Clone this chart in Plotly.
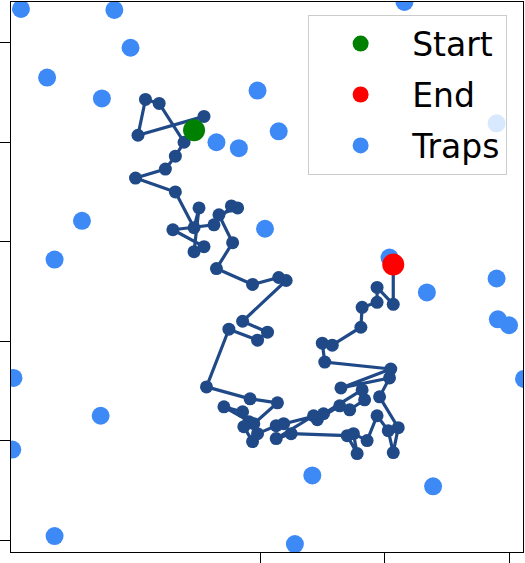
import plotly.graph_objects as go

# Trap positions
trap_x = [0.08, 0.83, 0.96, 0.29, 0.73, 1.98, 1.65, 1.83, 2.15, 3.16, 3.90, 0.57, 0.35, 2.04,
          3.04, 3.90, 3.34, 3.91, 4.00, 4.12, 0.02, 0.72, 0.01, 0.35, 2.42, 3.39, 2.28]
trap_y = [5.34, 5.33, 4.95, 4.65, 4.44, 4.52, 4.00, 3.94, 4.11, 5.41, 4.19, 3.21, 2.82, 3.13,
          2.84, 2.63, 2.49, 2.22, 2.16, 1.62, 1.63, 1.25, 0.91, 0.04, 0.65, 0.54, -0.04]

# Random-walk path
walk_x = [1.47, 1.55, 1.02, 1.08, 1.19, 1.39, 1.32, 1.24, 1.00, 1.32,
          1.47, 1.51, 1.47, 1.55, 1.30, 1.63, 1.77, 1.82, 1.67, 1.78,
          1.65, 1.94, 2.15, 2.21, 1.86, 2.06, 1.98, 1.75, 1.57, 1.92,
          2.14, 1.95, 1.71, 1.86, 1.91, 1.87, 1.94, 1.98, 2.13, 2.19,
          2.51, 2.82, 2.84, 2.72, 2.64, 2.46, 2.43, 2.13, 2.25, 2.70,
          2.78, 2.75, 2.86, 2.94, 3.03, 3.07, 3.11, 2.96, 3.04, 2.65,
          3.05, 2.52, 2.50, 2.58, 2.81, 2.82, 2.94, 2.94, 3.07, 3.07]
walk_y = [4.12, 4.26, 4.07, 4.43, 4.39, 4.00, 3.86, 3.73, 3.64, 3.50,
          3.14, 3.34, 2.90, 2.95, 3.12, 3.17, 3.36, 3.34, 3.27, 2.99,
          2.73, 2.57, 2.64, 2.61, 2.20, 2.09, 2.01, 2.12, 1.54, 1.42,
          1.38, 1.17, 1.34, 1.29, 1.19, 1.14, 0.99, 1.07, 1.15, 1.17,
          1.27, 1.51, 1.41, 1.31, 1.35, 1.21, 1.25, 1.02, 1.07, 1.05,
          0.87, 1.07, 1.00, 1.25, 1.10, 0.88, 1.13, 1.44, 1.63, 1.53,
          1.72, 1.79, 1.98, 1.96, 2.14, 2.34, 2.39, 2.54, 2.37, 2.77]

x_ticks = [2, 3, 4]
y_ticks = [0, 1, 2, 3, 4, 5]

TRAP = "#3d8af7"
WALK = "#204a87"

fig = go.Figure()
fig.add_trace(go.Scatter(x=trap_x, y=trap_y, mode="markers", name="Traps",
                         marker=dict(color=TRAP, size=18, line=dict(width=0)),
                         legendrank=3, legendgroup="c"))
fig.add_trace(go.Scatter(x=walk_x, y=walk_y, mode="lines+markers", showlegend=False,
                         line=dict(color=WALK, width=3.2),
                         marker=dict(color=WALK, size=13, line=dict(width=0))))
fig.add_trace(go.Scatter(x=walk_x[:1], y=walk_y[:1], mode="markers", name="Start",
                         marker=dict(color="#008000", size=22, line=dict(width=0)),
                         legendrank=1, legendgroup="a"))
fig.add_trace(go.Scatter(x=walk_x[-1:], y=walk_y[-1:], mode="markers", name="End",
                         marker=dict(color="#ff0000", size=22, line=dict(width=0)),
                         legendrank=2, legendgroup="b"))

axis_common = dict(showline=True, mirror=True, linecolor="black", linewidth=1,
                   ticks="outside", ticklen=10, tickcolor="black", tickwidth=1,
                   showticklabels=False, showgrid=False, zeroline=False)
fig.update_xaxes(range=[0, 4.112], tickvals=x_ticks, **axis_common)
fig.update_yaxes(range=[-0.12, 5.41], tickvals=y_ticks, **axis_common)

fig.update_layout(
    width=525, height=563,
    margin=dict(l=8, r=1, t=1, b=9),
    plot_bgcolor="white", paper_bgcolor="white",
    font=dict(family="DejaVu Sans", color="black"),
    legend=dict(x=0.969, y=0.977, xanchor="right", yanchor="top",
                bgcolor="rgba(255,255,255,0.8)", bordercolor="#cccccc", borderwidth=1,
                font=dict(size=33, family="DejaVu Sans"),
                traceorder="grouped", tracegroupgap=5, itemwidth=93),
)

fig.write_html("out.html")
